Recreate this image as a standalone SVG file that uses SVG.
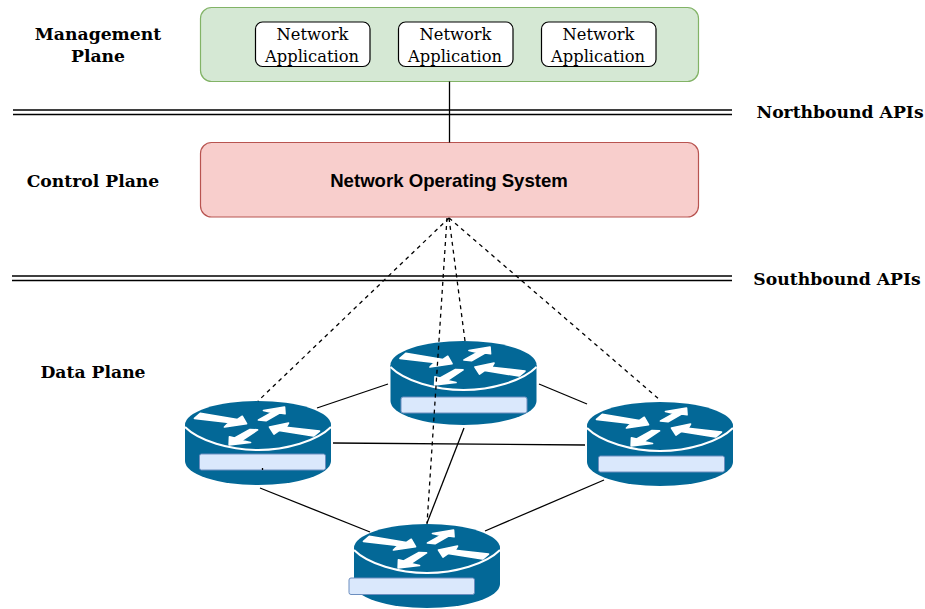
<svg xmlns="http://www.w3.org/2000/svg" width="925" height="609" viewBox="0 0 925 609">
<style>
.lbl{font-family:"DejaVu Serif","Liberation Serif",serif;font-weight:bold;font-size:17.200px;fill:#000;text-anchor:middle}
.app{font-family:"DejaVu Serif","Liberation Serif",serif;font-size:16.300px;fill:#000;text-anchor:middle}
.appbox{fill:#fff;stroke:#000;stroke-width:1.2}
.ln{stroke:#000;stroke-width:1.3;fill:none}
.dash{stroke:#000;stroke-width:1.3;fill:none;stroke-dasharray:4 4}
.dbl{stroke:#000;stroke-width:1.3;fill:none}
.tag{fill:#dae8fc;stroke:#6c8ebf;stroke-width:1}
.arr{fill:#fff;stroke:#fff;stroke-width:1.700;stroke-linejoin:round}
</style>
<defs>
<g id="router">
<path d="M0,24 V60 A73,24 0 0 0 146,60 V24 Z" fill="#036897"/>
<ellipse cx="73" cy="24" rx="73" ry="24" fill="#036897"/>
<path d="M0,26 C14,40 45,49 73,49 C101,49 132,40 146,26" fill="none" stroke="#fff" stroke-width="2"/>
<polygon class="arr" points="15.300,12.300 52.500,18.500 57.300,15.300 61.500,22.700 39.500,26 44,21.500 9.500,17.300"/>
<polygon class="arr" points="78.500,9.500 99.500,6 100,12.700 94.500,12 81,19.700 73.500,19 87,11.500"/>
<polygon class="arr" points="84.500,26 103.500,22 101,26.300 134.500,30 128.500,35 94,29.500 89,33"/>
<polygon class="arr" points="44.200,43.800 44.500,35.800 49.700,37 65,28.500 72.500,28.900 56.500,39.500 65.500,41.500"/>
</g>
</defs>
<rect width="925" height="609" fill="#fff"/>
<g id="management-plane">
<rect x="200.500" y="7.500" width="498" height="74" rx="11" fill="#d5e8d4" stroke="#82b366" stroke-width="1.200"/>
</g>
<g id="app-1"><rect class="appbox" x="255.500" y="22" width="114.500" height="44.500" rx="7"/><text class="app" x="312.500" y="40">Network</text><text class="app" x="312" y="62">Application</text></g>
<g id="app-2"><rect class="appbox" x="398.500" y="22" width="114.500" height="44.500" rx="7"/><text class="app" x="455.500" y="40">Network</text><text class="app" x="455" y="62">Application</text></g>
<g id="app-3"><rect class="appbox" x="541.500" y="22" width="114.500" height="44.500" rx="7"/><text class="app" x="598.500" y="40">Network</text><text class="app" x="598" y="62">Application</text></g>
<g id="network-os">
<rect x="200.500" y="142.500" width="498" height="74.500" rx="11" fill="#f8cecc" stroke="#b85450" stroke-width="1.200"/>
<text x="449" y="187" font-family="'Liberation Sans',Arial,sans-serif" font-weight="bold" font-size="18.600" text-anchor="middle">Network Operating System</text>
</g>
<g id="label-management"><text class="lbl" x="98" y="40">Management</text><text class="lbl" x="98" y="62">Plane</text></g>
<g id="label-control"><text class="lbl" x="93" y="187">Control Plane</text></g>
<g id="label-data"><text class="lbl" x="93" y="378">Data Plane</text></g>
<g id="label-north"><text class="lbl" x="840" y="118">Northbound APIs</text></g>
<g id="label-south"><text class="lbl" x="837" y="285">Southbound APIs</text></g>
<g id="router-1"><use href="#router" x="185" y="401"/><rect class="tag" x="199.500" y="454" width="126" height="16" rx="2"/></g>
<g id="router-2"><use href="#router" x="390.500" y="341"/><rect class="tag" x="401" y="397" width="126" height="16" rx="2"/></g>
<g id="router-3"><use href="#router" x="587" y="402"/><rect class="tag" x="598.500" y="456" width="126" height="16" rx="2"/></g>
<g id="router-4"><use href="#router" x="354" y="524"/><rect class="tag" x="349" y="578" width="125.500" height="16.500" rx="2"/></g>
<g id="connectors">
<path class="ln" d="M449.500,81.500V142.500"/>
<path class="dbl" d="M13,110H732M13,114.500H732"/>
<path class="dbl" d="M12,276H732M12,280.500H732"/>
<path class="dash" d="M449,218L258,401"/>
<path class="dash" d="M449,218L660,400"/>
<path class="dash" d="M449,218L465,341"/>
<path class="dash" d="M447,218L427,524"/>
<path class="ln" d="M317,408L388,384"/>
<path class="ln" d="M333,443L585,445"/>
<path class="ln" d="M539,384L587,404"/>
<path class="ln" d="M260,488L370,532"/>
<path class="ln" d="M464,428L427,523"/>
<path class="ln" d="M604,480L485,531"/>
<path class="ln" d="M262.500,468V470"/>
</g>
</svg>
